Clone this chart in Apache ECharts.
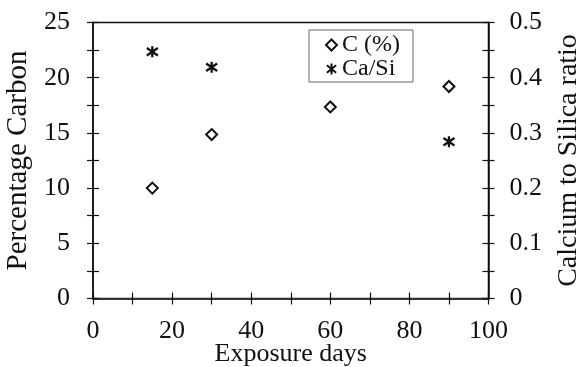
<!DOCTYPE html>
<html>
<head>
<meta charset="utf-8">
<script src="https://cdn.jsdelivr.net/npm/echarts@6/dist/echarts.min.js"></script>
<style>
  html, body { margin: 0; padding: 0; background: #fff; }
  #chart { width: 580px; height: 367px; }
</style>
</head>
<body>
<div id="chart"></div>
<script>
// Carbon content and Ca/Si ratio against exposure time
const carbonDays = [15, 30, 60, 90];
const carbonPercent = [10.0, 14.85, 17.35, 19.2];
const ratioDays = [15, 30, 90];
const caSiRatio = [0.447, 0.419, 0.284];

const FONT = 'Liberation Serif';
const INK = '#111';

const chart = echarts.init(document.getElementById('chart'), null, { renderer: 'canvas' });

const isMultiple = (v, step) => Math.abs(v / step - Math.round(v / step)) < 1e-6;

const tickOut = { show: true, inside: false, length: 6, lineStyle: { color: INK, width: 1.2 } };
const tickIn = { show: true, inside: true, length: 6, lineStyle: { color: INK, width: 1.2 } };
const axisLineStyle = { show: true, lineStyle: { color: INK, width: 1.5 } };
const labelBase = { color: INK, fontFamily: FONT, fontSize: 26 };
const nameStyle = size => ({ color: INK, fontFamily: FONT, fontSize: size });

// Stroked asterisk marker: vertical bar crossed by an X
const asterisk = 'path://M5,0L5,10M0.8,1.6L9.2,8.4M9.2,1.6L0.8,8.4';

chart.setOption({
  animation: false,
  backgroundColor: '#fff',
  grid: {
    left: 93, right: 91.5, top: 22.5, bottom: 68.5,
    outerBoundsMode: 'none', containLabel: false,
    show: true, borderColor: INK, borderWidth: 1.5, backgroundColor: 'transparent'
  },
  legend: {
    orient: 'vertical',
    left: 309, top: 30,
    padding: [3, 13, 1, 16],
    itemGap: 0,
    itemWidth: 11, itemHeight: 11,
    borderColor: '#666', borderWidth: 1,
    textStyle: { color: INK, fontFamily: FONT, fontSize: 24 },
    data: ['C (%)', 'Ca/Si']
  },
  xAxis: [
    {
      type: 'value', min: 0, max: 100, interval: 10, position: 'bottom',
      name: 'Exposure days', nameLocation: 'middle', nameGap: 43, nameMoveOverlap: false,
      nameTextStyle: nameStyle(26),
      axisLine: { show: true, lineStyle: { color: '#333', width: 2 } },
      axisTick: tickOut,
      axisLabel: Object.assign({}, labelBase, {
        margin: 20,
        formatter: v => isMultiple(v, 20) ? String(v) : ''
      }),
      splitLine: { show: false }
    },
    {
      type: 'value', min: 0, max: 100, interval: 10, position: 'bottom',
      axisLine: { show: false }, axisTick: tickIn,
      axisLabel: { show: false }, splitLine: { show: false }
    }
  ],
  yAxis: [
    {
      type: 'value', min: 0, max: 25, interval: 2.5, position: 'left',
      name: 'Percentage Carbon', nameLocation: 'middle', nameGap: 60, nameRotate: 90, nameMoveOverlap: false,
      nameTextStyle: nameStyle(29),
      axisLine: axisLineStyle, axisTick: tickOut,
      axisLabel: Object.assign({}, labelBase, {
        margin: 23,
        formatter: v => isMultiple(v, 5) ? String(Math.round(v)) : ''
      }),
      splitLine: { show: false }
    },
    {
      type: 'value', min: 0, max: 25, interval: 2.5, position: 'left',
      axisLine: { show: false }, axisTick: tickIn,
      axisLabel: { show: false }, splitLine: { show: false }
    },
    {
      type: 'value', min: 0, max: 0.5, interval: 0.05, position: 'right',
      name: 'Calcium to Silica ratio', nameLocation: 'middle', nameGap: 66, nameRotate: 90, nameMoveOverlap: false,
      nameTextStyle: nameStyle(28),
      axisLine: axisLineStyle, axisTick: tickOut,
      axisLabel: Object.assign({}, labelBase, {
        margin: 21,
        formatter: v => isMultiple(v, 0.1) ? (Math.abs(v) < 1e-9 ? '0' : v.toFixed(1)) : ''
      }),
      splitLine: { show: false }
    },
    {
      type: 'value', min: 0, max: 0.5, interval: 0.05, position: 'right',
      axisLine: { show: false }, axisTick: tickIn,
      axisLabel: { show: false }, splitLine: { show: false }
    }
  ],
  series: [
    {
      name: 'C (%)', type: 'scatter', xAxisIndex: 0, yAxisIndex: 0,
      symbol: 'diamond', symbolSize: [11, 11],
      itemStyle: { color: '#fff', borderColor: INK, borderWidth: 2, opacity: 1 },
      data: carbonDays.map((d, i) => [d, carbonPercent[i]])
    },
    {
      name: 'Ca/Si', type: 'scatter', xAxisIndex: 0, yAxisIndex: 2,
      symbol: asterisk, symbolSize: [11, 11],
      itemStyle: { color: 'rgba(0,0,0,0)', borderColor: INK, borderWidth: 2.3, opacity: 1 },
      data: ratioDays.map((d, i) => [d, caSiRatio[i]])
    }
  ]
});
</script>
</body>
</html>
